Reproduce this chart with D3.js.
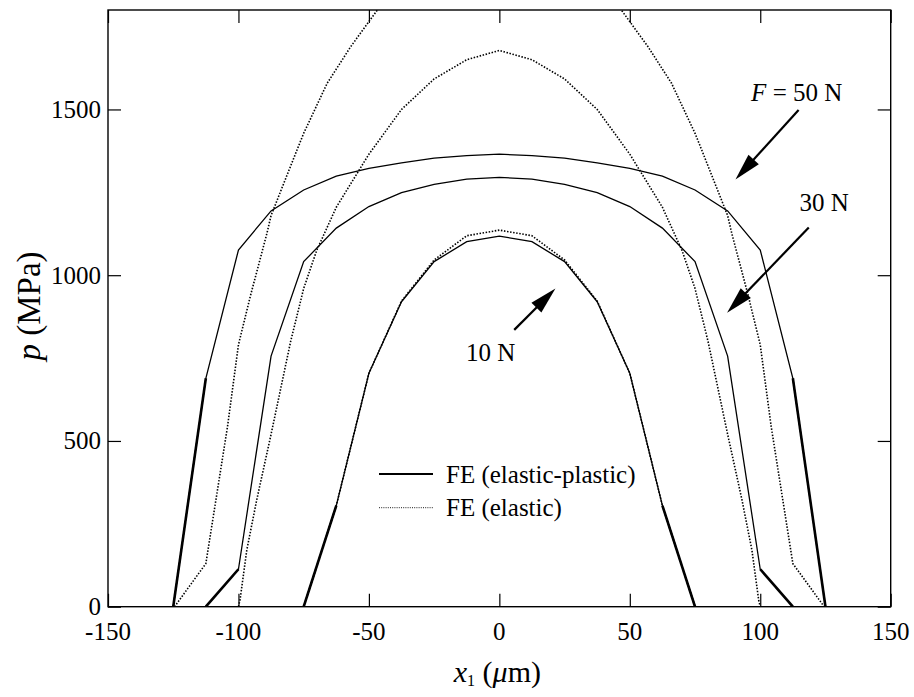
<!DOCTYPE html>
<html><head><meta charset="utf-8">
<script src="https://cdn.jsdelivr.net/npm/d3@7"></script>
<style>body{margin:0;background:#fff}svg{display:block}</style>
</head><body>
<svg id="c" width="914" height="697"></svg>
<script>
// ---- data ----
const xTicksMajor = [-150,-100,-50,0,50,100,150];
const yTicksMajor = [0,500,1000,1500];

// FE elastic-plastic (node positions x1 in µm, p in MPa)
const ep50x = [-125,-112.5,-100,-87.5,-75,-62.5,-50,-37.5,-25,-12.5,0,12.5,25,37.5,50,62.5,75,87.5,100,112.5,125];
const ep50p = [0,689,1076,1194,1257,1299,1322,1339,1353,1361,1365,1361,1353,1339,1322,1299,1257,1194,1076,689,0];
const ep30x = [-112.5,-100,-87.5,-75,-62.5,-50,-37.5,-25,-12.5,0,12.5,25,37.5,50,62.5,75,87.5,100,112.5];
const ep30p = [0,113,756,1041,1142,1207,1249,1274,1290,1295,1290,1274,1249,1207,1142,1041,756,113,0];
const ep10x = [-75,-62.5,-50,-37.5,-25,-12.5,0,12.5,25,37.5,50,62.5,75];
const ep10p = [0,305,704,920,1041,1101,1118,1101,1041,920,704,305,0];

// FE elastic
const el50x = [-124.5,-112.5,-104.2,-100,-95.5,-89.1,-87.5,-77.6,-75,-66,-57,-50,-37.5,-25,-12.5,0,12.5,25,37.5,50,57,66,75,77.6,87.5,89.1,95.5,100,104.2,112.5,124.5];
const el50p = [0,130,543,790,935,1126,1180,1377,1428,1579,1689,1765,1900,1985,2035,2050,2035,1985,1900,1765,1689,1579,1428,1377,1180,1126,935,790,543,130,0];
const el30x = [-100,-99.4,-96.8,-93,-87.5,-80,-75,-70,-62.5,-50,-37.5,-25,-12.5,0,12.5,25,37.5,50,62.5,70,75,80,87.5,93,96.8,99.4,100];
const el30p = [0,20,171,322,520,800,960,1075,1205,1365,1500,1592,1650,1678,1650,1592,1500,1365,1205,1075,960,800,520,322,171,20,0];
const el10x = [-75,-62.5,-50,-37.5,-25,-12.5,0,12.5,25,37.5,50,62.5,75];
const el10p = [0,305,704,922,1046,1119,1136,1119,1046,922,704,305,0];

// annotations
const annLabels = ["50 N","30 N","10 N"];
const annText = [[96.5,1525],[115,1195],[-12.8,740]];
const annFrom = [[114.7,1498],[118.6,1144],[5.7,835]];
const annTo   = [[90.5,1289],[87.3,887],[21.5,960]];

const legendLabels = ["FE (elastic-plastic)","FE (elastic)"];

// ---- chart ----
const TF = '"Liberation Serif"';
const svg = d3.select("#c");
const L=108, R=890.7, T=10, B=606.7;
const x = d3.scaleLinear().domain([-150,150]).range([L,R]);
const y = d3.scaleLinear().domain([0,1800]).range([B,T]);

svg.append("defs").append("clipPath").attr("id","clip").append("rect")
  .attr("x",L).attr("y",T).attr("width",R-L).attr("height",B-T);

const zip = (xs,ps)=>xs.map((v,i)=>[v,ps[i]]);
const line = d3.line().x(d=>x(d[0])).y(d=>y(d[1]));
const plot = svg.append("g").attr("clip-path","url(#clip)");

function drawEP(xs,ps){
  const pts = zip(xs,ps);
  plot.append("path").attr("d",line(pts)).attr("fill","none").attr("stroke","#000").attr("stroke-width",1.3);
  plot.append("path").attr("d",line(pts.slice(0,2))).attr("fill","none").attr("stroke","#000").attr("stroke-width",2.6);
  plot.append("path").attr("d",line(pts.slice(-2))).attr("fill","none").attr("stroke","#000").attr("stroke-width",2.6);
}
function drawEL(xs,ps){
  plot.append("path").attr("d",line(zip(xs,ps))).attr("fill","none").attr("stroke","#000")
    .attr("stroke-width",1.6).attr("stroke-dasharray","1.5,1.6");
}
drawEL(el50x,el50p); drawEL(el30x,el30p); drawEL(el10x,el10p);
drawEP(ep50x,ep50p); drawEP(ep30x,ep30p); drawEP(ep10x,ep10p);

// axes (ticks inward on all four sides)
const tickMinor = 8, tickMajor = 13;
const xMinor = d3.range(-150,151,10), yMinor = d3.range(0,1801,100);
let g = svg.append("g").attr("transform",`translate(0,${B})`);
g.call(d3.axisTop(x).tickValues(xMinor).tickSize(tickMinor).tickFormat(""));
g.call(d3.axisTop(x).tickValues(xTicksMajor).tickSize(tickMajor).tickFormat(""));
g = svg.append("g").attr("transform",`translate(0,${T})`);
g.call(d3.axisBottom(x).tickValues(xMinor).tickSize(tickMinor).tickFormat(""));
g.call(d3.axisBottom(x).tickValues(xTicksMajor).tickSize(tickMajor).tickFormat(""));
g = svg.append("g").attr("transform",`translate(${L},0)`);
g.call(d3.axisRight(y).tickValues(yMinor).tickSize(tickMinor).tickFormat(""));
g.call(d3.axisRight(y).tickValues(yTicksMajor).tickSize(tickMajor).tickFormat(""));
g = svg.append("g").attr("transform",`translate(${R},0)`);
g.call(d3.axisLeft(y).tickValues(yMinor).tickSize(tickMinor).tickFormat(""));
g.call(d3.axisLeft(y).tickValues(yTicksMajor).tickSize(tickMajor).tickFormat(""));
svg.selectAll(".domain").remove();
svg.selectAll(".tick line").attr("stroke","#000").attr("stroke-width",1.2);
svg.selectAll(".tick text").remove();
svg.append("rect").attr("x",L).attr("y",T).attr("width",R-L).attr("height",B-T)
  .attr("fill","none").attr("stroke","#000").attr("stroke-width",1.4);

// tick labels
svg.append("g").selectAll("text").data(xTicksMajor).join("text")
  .style("font-family",TF)
  .attr("x",d=>x(d)).attr("y",B+33).attr("text-anchor","middle").attr("font-size",25)
  .text(d=>String(d));
svg.append("g").selectAll("text").data(yTicksMajor).join("text")
  .style("font-family",TF)
  .attr("x",L-7).attr("y",d=>y(d)+8.5).attr("text-anchor","end").attr("font-size",25)
  .text(d=>String(d));

// axis titles
const xt = svg.append("text").style("font-family",TF).attr("x",(L+R)/2-2).attr("y",682).attr("text-anchor","middle").attr("font-size",30);
xt.append("tspan").attr("font-style","italic").text("x");
xt.append("tspan").attr("font-size",16).attr("dy",4).text("1");
xt.append("tspan").attr("dy",-4).text(" (");
xt.append("tspan").attr("font-style","italic").text("μ");
xt.append("tspan").text("m)");

const yt = svg.append("text").style("font-family",TF).attr("transform",`translate(40,306)rotate(-90)`)
  .attr("text-anchor","middle").attr("font-size",33);
yt.append("tspan").attr("font-style","italic").text("p");
yt.append("tspan").text(" (MPa)");

// annotations
annLabels.forEach((lab,i)=>{
  const t = svg.append("text").style("font-family",TF).attr("x",x(annText[i][0])).attr("y",y(annText[i][1])).attr("font-size",25);
  if(i===0){ t.append("tspan").attr("font-style","italic").text("F"); t.append("tspan").text(" = "+lab); }
  else t.text(lab);
  const x0=x(annFrom[i][0]), y0=y(annFrom[i][1]), x1=x(annTo[i][0]), y1=y(annTo[i][1]);
  const dx=x1-x0, dy=y1-y0, len=Math.hypot(dx,dy), ux=dx/len, uy=dy/len;
  const hl=27, hw=7;
  const bx=x1-ux*hl, by=y1-uy*hl;
  svg.append("line").attr("x1",x0).attr("y1",y0).attr("x2",bx+ux*2).attr("y2",by+uy*2)
    .attr("stroke","#000").attr("stroke-width",2.2);
  svg.append("path").attr("d",`M${x1},${y1}L${bx-uy*hw},${by+ux*hw}L${bx+uy*hw},${by-ux*hw}Z`).attr("fill","#000");
});

// legend
const lg = svg.append("g");
legendLabels.forEach((lab,i)=>{
  const yy = 474 + i*33.7;
  const ln = lg.append("line").attr("x1",379).attr("x2",433).attr("y1",yy).attr("y2",yy).attr("stroke","#000");
  if(i===0) ln.attr("stroke-width",1.8); else ln.attr("stroke-width",0.9).attr("stroke-dasharray","1,1.2");
  lg.append("text").style("font-family",TF).attr("x",446).attr("y",yy+8.5).attr("font-size",25).text(lab);
});
</script>
</body></html>
